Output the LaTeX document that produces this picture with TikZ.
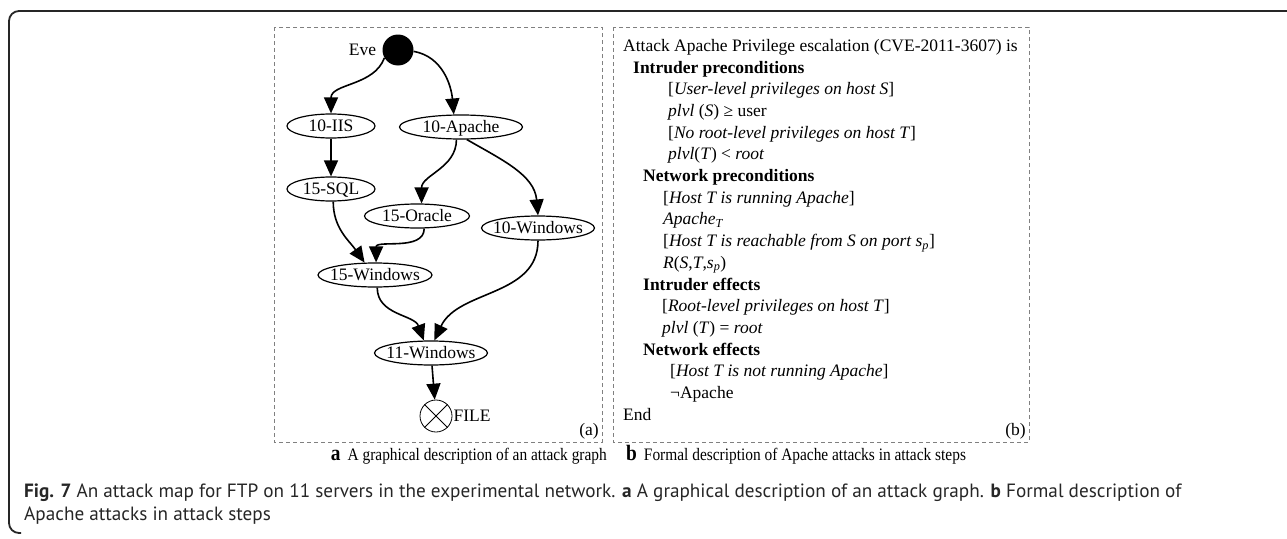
\documentclass[tikz,border=0pt]{standalone}
\usepackage{fontspec}
\setmainfont{Liberation Serif}
\newfontfamily\capfont{PT Sans}
\newfontfamily\narrowserif[FakeStretch=0.88]{Liberation Serif}
\usepackage{tikz}
\usetikzlibrary{arrows.meta,shapes.geometric,positioning}

\tikzset{
  hostnode/.style={ellipse, draw, line width=1.2pt, inner sep=0pt, minimum height=24pt, minimum width=#1, text height=11.5pt, text depth=0pt},
  hop/.style={line width=1.6pt, -{Triangle[length=16pt,width=14pt]}},
  panel/.style={draw=black!50, line width=0.8pt, dash pattern=on 4pt off 3pt},
  capline/.style={anchor=base west, inner sep=0pt, text=black!85, font=\capfont\fontsize{19.2}{22}\selectfont},
}

\begin{document}
\begin{tikzpicture}[x=1pt, y=-1pt, font=\fontsize{17.5}{21.7}\selectfont]
\useasboundingbox (0,0) rectangle (1287,538);
% frame and panels
\draw[line width=1.8pt, black!85, rounded corners=10pt] (1287,11) -- (9,11) -- (9,533) -- (21,533);
\draw[panel] (274,27) rectangle (602,442);
\draw[panel] (613,27) rectangle (1029,442);

% (a) attack graph
\node[circle, fill=black, minimum size=31pt, inner sep=0pt] (eve) at (398,50) {};
\node[left=6pt of eve, inner sep=0pt] (evename) {Eve};
\node[hostnode=88pt] (iis) at (331,126) {\makebox[0pt]{10-IIS}};
\node[hostnode=123pt] (apache) at (461,127) {\makebox[0pt]{10-Apache}};
\node[hostnode=88pt] (sql) at (331,189) {\makebox[0pt]{15-SQL}};
\node[hostnode=105pt] (oracle) at (417,216) {\makebox[0pt]{15-Oracle}};
\node[hostnode=113pt] (winten) at (538,228) {\makebox[0pt]{10-Windows}};
\node[hostnode=114pt] (winfifteen) at (375,275) {\makebox[0pt]{15-Windows}};
\node[hostnode=113pt] (wineleven) at (431,353) {\makebox[0pt]{11-Windows}};
\node[circle, draw, line width=0.8pt, minimum size=32pt, inner sep=0pt] (file) at (436,416) {};
\draw[line width=0.8pt] (file.45) -- (file.225) (file.135) -- (file.315);
\node[right=1pt of file, inner sep=0pt] (filename) {FILE};
\node[anchor=south east, inner sep=0pt] (taga) at (599,439) {(a)};

\draw[hop] (eve.210) to[out=250,in=90] (iis.north);
\draw[hop] (eve.355) to[out=-10,in=95] (apache.120);
\draw[hop] (iis) -- (sql);
\draw[hop] (apache.250) to[out=270,in=90] (oracle.70);
\draw[hop] (apache.295) to[out=-30,in=95] (winten.north);
\draw[hop] (sql.280) to[out=270,in=125] (winfifteen.130);
\draw[hop] (oracle.300) to[out=270,in=90] (winfifteen.85);
\draw[hop] (winfifteen.280) to[out=270,in=110] (wineleven.120);
\draw[hop] (winten.south) to[out=270,in=65] (wineleven.75);
\draw[hop] (wineleven) -- (file);

% (b) formal description
\node[anchor=north west, inner sep=0pt, align=left] (formal) at (623,39) {%
Attack Apache Privilege escalation (CVE-2011-3607) is\\
\hspace*{10pt}\textbf{Intruder preconditions}\\
\hspace*{45pt}[\textit{User-level privileges on host S}]\\
\hspace*{45pt}\textit{plvl} (\textit{S}) ≥ user\\
\hspace*{45pt}[\textit{No root-level privileges on host T}]\\
\hspace*{45pt}\textit{plvl}(\textit{T}) < \textit{root}\\
\hspace*{20pt}\textbf{Network preconditions}\\
\hspace*{40pt}[\textit{Host T is running Apache}]\\
\hspace*{40pt}\textit{Apache}\textsubscript{\textit{T}}\\
\hspace*{40pt}[\textit{Host T is reachable from S on port s}\textsubscript{\textit{p}}]\\
\hspace*{40pt}\textit{R}(\textit{S},\textit{T},\textit{s}\textsubscript{\textit{p}})\\
\hspace*{20pt}\textbf{Intruder effects}\\
\hspace*{39pt}[\textit{Root-level privileges on host T}]\\
\hspace*{39pt}\textit{plvl} (\textit{T}) = \textit{root}\\
\hspace*{20pt}\textbf{Network effects}\\
\hspace*{47pt}[\textit{Host T is not running Apache}]\\
\hspace*{47pt}¬Apache\\
End};
\node[anchor=south east, inner sep=0pt] (tagb) at (1026,439) {(b)};

% captions
\node[anchor=base east, inner sep=0pt] (capa) at (607,460) {\narrowserif{\fontsize{22}{22}\selectfont\bfseries a}\hspace{7pt}A graphical description of an attack graph};
\node[anchor=base west, inner sep=0pt] (capb) at (626,460) {\narrowserif{\fontsize{22}{22}\selectfont\bfseries b}\hspace{7pt}Formal description of Apache attacks in attack steps};
\node[capline] (figcap) at (24,497) {\textbf{Fig. 7} An attack map for FTP on 11 servers in the experimental network. \textbf{a} A graphical description of an attack graph. \textbf{b} Formal description of};
\node[capline] (figcaptail) at (24,520) {Apache attacks in attack steps};
\end{tikzpicture}
\end{document}
